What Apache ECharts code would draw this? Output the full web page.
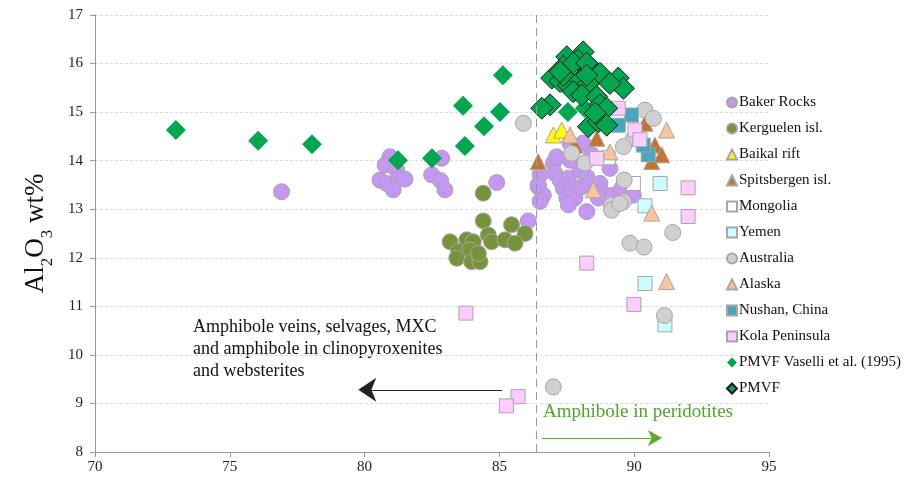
<!DOCTYPE html>
<html><head><meta charset="utf-8">
<script src="https://cdn.jsdelivr.net/npm/echarts@6/dist/echarts.min.js"></script>
<style>html,body{margin:0;padding:0;background:#fff}#c{width:911px;height:481px}</style>
</head><body><div id="c"></div>
<script>
const xTicks = [70, 75, 80, 85, 90, 95];
const yTicks = [8, 9, 10, 11, 12, 13, 14, 15, 16, 17];
const dividerX = 86.35;

const bakerRocks = [[76.92,13.36],[80.94,14.08],[80.76,13.91],[81.19,13.81],[80.57,13.60],[80.82,13.53],[81.25,13.62],[81.50,13.62],[81.06,13.40],[82.86,14.05],[82.49,13.71],[82.82,13.59],[82.98,13.40],[84.90,13.55],[86.07,12.76],[86.44,13.46],[86.63,13.29],[86.51,13.16],[86.51,13.71],[86.44,13.50],[87.00,13.95],[87.06,13.74],[87.25,13.60],[87.56,13.64],[87.37,13.43],[87.68,13.40],[87.50,13.23],[87.80,13.23],[87.99,13.81],[88.24,13.67],[88.05,13.46],[88.36,13.53],[88.73,13.53],[88.79,13.36],[88.67,13.23],[89.10,13.84],[89.22,13.29],[88.24,12.95],[87.56,13.09],[88.42,14.12],[87.62,14.01],[87.12,14.08],[89.97,13.29],[89.54,13.43],[87.62,14.36],[88.10,14.36]];
const kerguelen = [[84.40,13.33],[84.40,12.76],[85.45,12.68],[85.95,12.50],[83.17,12.33],[83.79,12.37],[84.03,12.33],[84.59,12.47],[84.71,12.33],[85.21,12.37],[85.58,12.30],[83.48,12.13],[83.91,12.16],[83.42,11.99],[83.97,11.92],[84.28,11.92],[84.22,12.09]];
const baikalRift = [[87.00,14.53],[87.31,14.63]];
const spitsbergen = [[86.44,13.98],[87.80,14.32],[88.61,14.46],[90.40,14.77],[90.77,14.32],[91.02,14.12],[90.65,13.98]];
const mongolia = [[89.97,13.53],[89.03,14.06]];
const yemen = [[90.96,13.53],[90.40,13.07],[90.40,11.47],[91.14,10.62]];
const australia = [[85.89,14.77],[89.84,12.30],[90.36,12.22],[91.43,12.52],[91.12,10.81],[87.00,9.34],[89.63,13.60],[89.16,13.09],[89.60,13.16],[90.40,15.04],[90.71,14.87],[89.97,14.46],[89.60,14.29],[87.68,14.15],[88.17,13.95],[89.16,12.98],[89.47,13.12]];
const alaska = [[87.62,14.53],[89.10,14.18],[88.48,13.40],[91.20,14.63],[91.20,11.51],[90.65,12.92]];
const nushan = [[89.90,14.94],[89.41,14.73],[90.52,14.12],[90.34,14.32]];
const kola = [[89.41,15.08],[90.03,14.63],[90.21,14.43],[88.61,14.05],[92.00,13.44],[92.00,12.85],[88.24,11.89],[89.99,11.04],[83.76,10.86],[85.69,9.14],[85.26,8.95]];
const pmvfVaselli = [[73.0,14.63],[76.05,14.41],[78.05,14.34],[81.24,14.01],[82.50,14.05],[83.65,15.13],[83.72,14.30],[84.43,14.71],[85.02,15.00],[85.13,15.76],[87.54,15.00],[88.17,15.08]];
const pmvf = [[88.11,16.24],[87.92,16.07],[87.50,16.14],[87.37,15.94],[87.74,16.01],[88.48,15.87],[88.24,16.01],[88.73,15.80],[89.41,15.70],[89.60,15.49],[89.10,15.59],[86.94,15.70],[87.25,15.63],[87.56,15.56],[87.37,15.76],[87.99,15.66],[88.30,15.59],[88.24,15.76],[87.74,15.42],[88.05,15.35],[86.88,15.15],[86.57,15.08],[88.61,15.32],[88.73,15.15],[88.98,15.08],[88.30,14.70],[88.67,14.80],[88.98,14.73],[88.55,14.98],[87.25,15.83]];

const serif = "'Liberation Serif','DejaVu Serif',serif";
const border = '#a6a6a6';
function sc(name, data, symbol, size, color, bc, bw) {
  return { name, type: 'scatter', data, symbol, symbolSize: size,
    itemStyle: { color, borderColor: bc || border, borderWidth: bw == null ? 1 : bw, opacity: 1 },
    emphasis: { disabled: true } };
}
const series = [
  sc('Baker Rocks', bakerRocks, 'circle', 16, '#c597f5'),
  sc('Kerguelen isl.', kerguelen, 'circle', 16, '#77933c'),
  sc('Baikal rift', baikalRift, 'triangle', 16, '#ffff00'),
  sc('Spitsbergen isl.', spitsbergen, 'triangle', 16, '#c7722f'),
  sc('Mongolia', mongolia, 'rect', 14, '#ffffff'),
  sc('Yemen', yemen, 'rect', 14, '#ccffff'),
  sc('Australia', australia, 'circle', 16, '#d0d0d0'),
  sc('Alaska', alaska, 'triangle', 16, '#f9c39b'),
  sc('Nushan, China', nushan, 'rect', 14, '#46a5bf'),
  sc('Kola Peninsula', kola, 'rect', 14, '#ffccff'),
  sc('PMVF Vaselli et al. (1995)', pmvfVaselli, 'diamond', 20, '#00a650', '#00a650', 0),
  sc('PMVF', pmvf, 'diamond', 22, '#00a650', '#1a1a1a', 1)
];
const arrowPath = 'path://M0,0 L10,22 L0,16 L-10,22 Z';
series.push({
  name: 'annot', type: 'scatter', data: [], silent: true,
  markLine: {
    silent: true, symbol: ['none', 'none'], label: { show: false },
    data: [
      [{ coord: [dividerX, 17], lineStyle: { color: '#999', type: [8, 5], width: 1 } }, { coord: [dividerX, 8] }],
      [{ coord: [85.1, 9.28], symbol: 'none', lineStyle: { color: '#222', type: 'solid', width: 1 } },
       { coord: [80.1, 9.28], symbol: arrowPath, symbolSize: [24, 18] }],
      [{ coord: [86.58, 8.29], symbol: 'none', lineStyle: { color: '#5aab1f', type: 'solid', width: 1 } },
       { coord: [90.77, 8.29], symbol: arrowPath, symbolSize: [16, 14] }]
    ]
  }
});

const chart = echarts.init(document.getElementById('c'), null, { renderer: 'canvas' });
chart.setOption({
  animation: false,
  backgroundColor: '#fff',
  grid: { left: 95, right: 142, top: 15, bottom: 29, containLabel: false },
  xAxis: {
    type: 'value', min: xTicks[0], max: xTicks[xTicks.length - 1], interval: 5,
    axisLine: { show: true, onZero: false, lineStyle: { color: '#999' } },
    axisTick: { show: true, length: 5, lineStyle: { color: '#999' } },
    splitLine: { show: false },
    axisLabel: { color: '#222', fontFamily: serif, fontSize: 15, margin: 8 }
  },
  yAxis: {
    type: 'value', min: yTicks[0], max: yTicks[yTicks.length - 1], interval: 1,
    name: '{a|Al}{s|2}{a|O}{s|3}{a| wt%}', nameLocation: 'middle', nameGap: 39, nameRotate: 90,
    nameTextStyle: {
      rich: {
        a: { fontFamily: serif, fontSize: 27, color: '#111', lineHeight: 34, verticalAlign: 'top' },
        s: { fontFamily: serif, fontSize: 17, color: '#111', lineHeight: 17, verticalAlign: 'bottom' }
      }
    },
    axisLine: { show: true, lineStyle: { color: '#999' } },
    axisTick: { show: true, length: 5, lineStyle: { color: '#999' } },
    splitLine: { show: true, lineStyle: { color: '#dcdcdc', type: [3, 2], width: 1 } },
    axisLabel: { color: '#222', fontFamily: serif, fontSize: 15, margin: 12 }
  },
  legend: {
    orient: 'vertical', left: 721, top: 90, itemWidth: 10, itemHeight: 10, itemGap: 11,
    data: series.filter(s => s.name !== 'annot').map(s => s.name),
    textStyle: { fontFamily: serif, fontSize: 15, color: '#111', padding: [0, 0, 0, -3] },
    selectedMode: false
  },
  graphic: [
    { type: 'text', left: 193, top: 316, style: { text: 'Amphibole veins, selvages, MXC\nand amphibole in clinopyroxenites\nand websterites', font: "18px 'Liberation Serif', serif", fill: '#111', lineHeight: 22 } },
    { type: 'text', left: 543, top: 403, style: { text: 'Amphibole in peridotites', font: "19px 'Liberation Serif', serif", fill: '#4ea72a' } }
  ],
  series
});
</script></body></html>
